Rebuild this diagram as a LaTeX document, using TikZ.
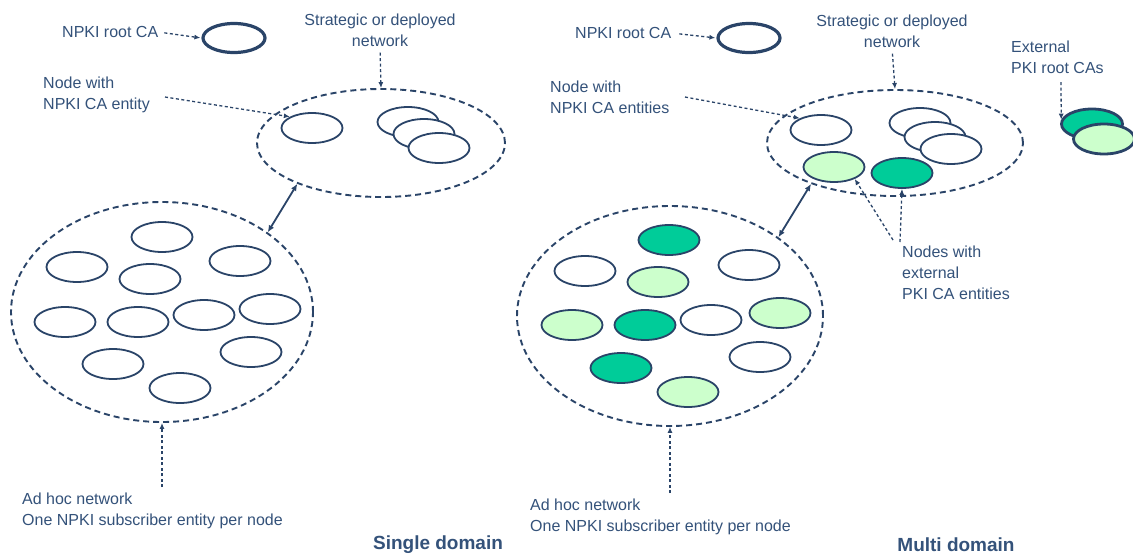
\documentclass[tikz,border=0pt]{standalone}
\usepackage{fontspec}
\setmainfont{Liberation Sans}
\usetikzlibrary{shapes.geometric,arrows.meta}
\definecolor{txtblue}{RGB}{52,82,122}
\definecolor{lineblue}{RGB}{42,68,104}
\definecolor{darkgreen}{RGB}{0,204,153}
\definecolor{lightgreen}{RGB}{204,255,204}
\tikzset{
  lbl/.style={text=txtblue,font=\fontsize{16}{21}\selectfont,inner sep=0pt,align=left},
  title/.style={text=txtblue,font=\fontsize{19}{22}\selectfont\bfseries,inner sep=0pt},
  ent/.style={ellipse,draw=lineblue,line width=1.8pt,fill=white,minimum width=61pt,minimum height=30pt,inner sep=0pt},
  entL/.style={ent,fill=lightgreen},
  entD/.style={ent,fill=darkgreen},
  rootca/.style={ent,line width=3.2pt,minimum width=62pt,minimum height=29pt},
  net/.style={ellipse,draw=lineblue,line width=1.9pt,dash pattern=on 6pt off 4pt,inner sep=0pt},
  pointer/.style={draw=lineblue,line width=1.3pt,dash pattern=on 3pt off 2.5pt,-{Latex[length=6pt,width=5pt]}},
  link/.style={draw=lineblue,line width=1.8pt,{Latex[length=7pt,width=6pt]}-{Latex[length=7pt,width=6pt]}}
}
\begin{document}
\begin{tikzpicture}[x=1pt,y=-1pt]
\useasboundingbox[fill=white] (0,0) rectangle (1133,558);

% ---------------- Single domain ----------------
\node[net,minimum width=248pt,minimum height=108pt] (strat) at (381,143) {};
\node[net,minimum width=302pt,minimum height=220pt] (adhoc) at (162,312) {};

\node[rootca] (root) at (234,38) {};
\node[lbl,anchor=west] (rootlbl) at (62,32) {NPKI root CA};
\node[lbl,align=center] (stratlbl) at (380,30) {Strategic or deployed\\network};
\node[lbl,anchor=west] (calbl) at (43,95) {Node with\\NPKI CA entity};
\node[lbl,anchor=west] (adhoclbl) at (22,511) {Ad hoc network\\One NPKI subscriber entity per node};
\node[title] (single) at (438,545) {Single domain};

% nodes of the deployed network
\node[ent] (ca) at (312,128) {};
\node[ent] (s1) at (408,122) {};
\node[ent] (s2) at (424,134) {};
\node[ent] (s3) at (439,148) {};

% nodes of the ad hoc network
\node[ent] (a1) at (162,237) {};
\node[ent] (a2) at (77,267) {};
\node[ent] (a3) at (240,261) {};
\node[ent] (a4) at (150,279) {};
\node[ent] (a5) at (65,322) {};
\node[ent] (a6) at (138,322) {};
\node[ent] (a7) at (204,315) {};
\node[ent] (a8) at (270,309) {};
\node[ent] (a9) at (251,352) {};
\node[ent] (a10) at (113,364) {};
\node[ent] (a11) at (180,388) {};

\coordinate (caStart) at (165,97);
\coordinate (adhocStart) at (162,487);
\draw[pointer,shorten <=6pt,shorten >=1pt] (rootlbl.east) -- (root.west);
\draw[pointer,shorten <=6pt] (stratlbl.south) -- (strat.north);
\draw[pointer] (caStart) -- (ca.153);
\draw[pointer] (adhocStart) -- (adhoc.south);
\draw[link] (strat.206) -- (adhoc.37);

% ---------------- Multi domain ----------------
\node[net,minimum width=256pt,minimum height=106pt] (mstrat) at (895,143) {};
\node[net,minimum width=306pt,minimum height=220pt] (madhoc) at (670,316) {};

\node[rootca] (mroot) at (749,38) {};
\node[lbl,anchor=west] (mrootlbl) at (575,33) {NPKI root CA};
\node[lbl,align=center] (mstratlbl) at (892,31) {Strategic or deployed\\network};
\node[lbl,anchor=west] (mcalbl) at (550,97) {Node with\\NPKI CA entities};
\node[lbl,anchor=west] (extlbl) at (1011,57) {External\\PKI root CAs};
\node[lbl,anchor=west] (extcalbl) at (902,273) {Nodes with\\external\\PKI CA entities};
\node[lbl,anchor=west] (madhoclbl) at (530,517) {Ad hoc network\\One NPKI subscriber entity per node};
\node[title] (multi) at (956,545) {Multi domain};

% external root CAs
\node[entD,line width=2.8pt] (extD) at (1092,124) {};
\node[entL,line width=2.8pt] (extL) at (1104,139) {};

% nodes of the deployed network
\node[ent] (mca) at (821,130) {};
\node[ent] (ms1) at (920,123) {};
\node[ent] (ms2) at (935,137) {};
\node[ent] (ms3) at (951,149) {};
\node[entL] (mxL) at (834,167) {};
\node[entD] (mxD) at (902,173) {};

% nodes of the ad hoc network
\node[entD] (b1) at (669,240) {};
\node[ent]  (b2) at (585,271) {};
\node[ent]  (b3) at (749,265) {};
\node[entL] (b4) at (658,282) {};
\node[entL] (b5) at (572,325) {};
\node[entD] (b6) at (645,325) {};
\node[ent]  (b7) at (711,320) {};
\node[entL] (b8) at (780,313) {};
\node[ent]  (b9) at (760,357) {};
\node[entD] (b10) at (621,368) {};
\node[entL] (b11) at (688,392) {};

\coordinate (mcaStart) at (685,97);
\coordinate (extStart) at (1061,82);
\coordinate (xStartL) at (893,240);
\coordinate (xStartD) at (900,242);
\coordinate (madhocStart) at (670,493);
\draw[pointer,shorten <=8pt,shorten >=1pt] (mrootlbl.east) -- (mroot.west);
\draw[pointer,shorten <=6pt] (mstratlbl.south) -- (mstrat.north);
\draw[pointer] (mcaStart) -- (mca.151);
\draw[pointer] (extStart) -- (extD.172);
\draw[pointer] (xStartL) -- (mxL.330);
\draw[pointer] (xStartD) -- (mxD.south);
\draw[pointer] (madhocStart) -- (madhoc.south);
\draw[link] (mstrat.206) -- (madhoc.36);
\end{tikzpicture}
\end{document}
